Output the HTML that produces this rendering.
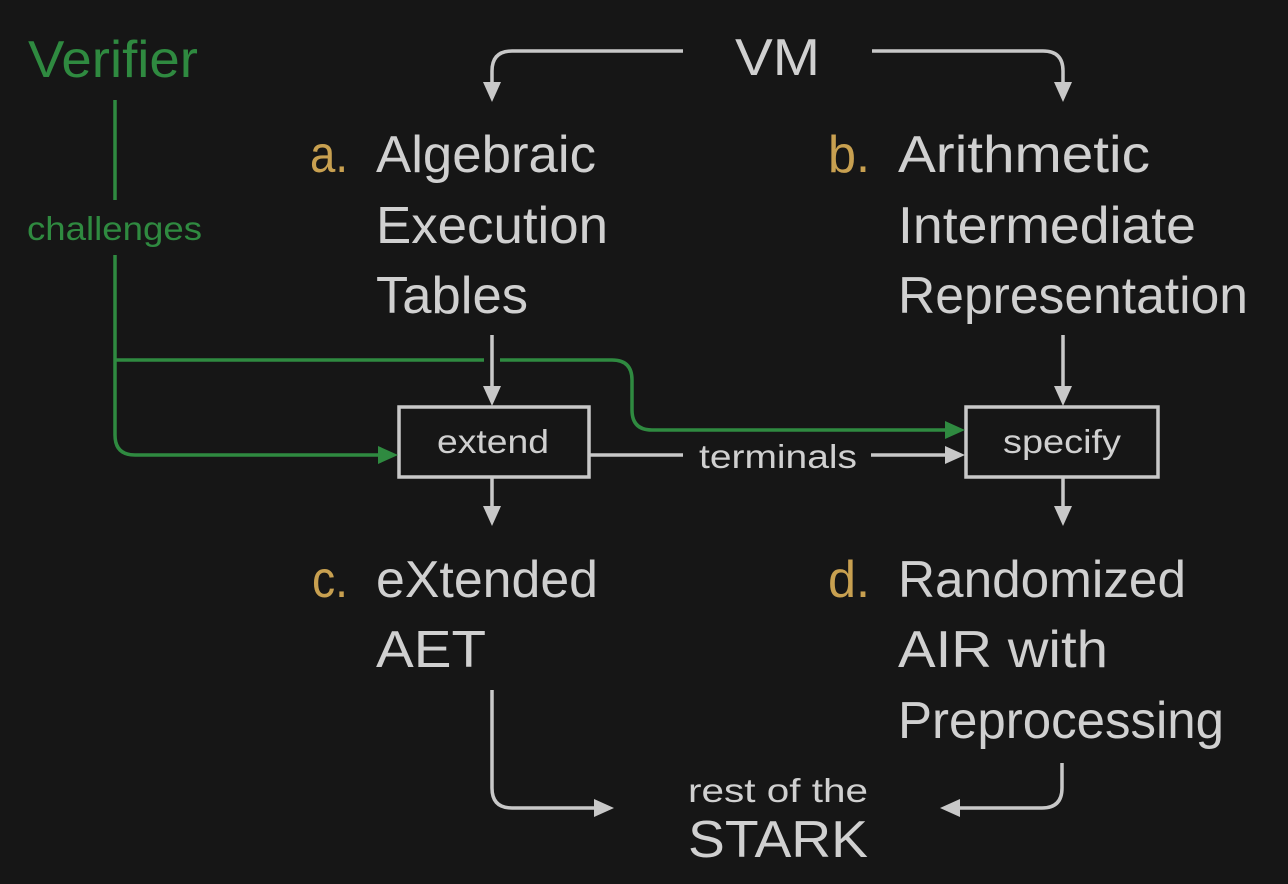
<!DOCTYPE html>
<html><head><style>
html,body{margin:0;padding:0;background:#161616;}
svg{display:block}
text{font-family:"Liberation Sans","DejaVu Sans",sans-serif;}
</style></head><body>
<svg width="1288" height="884" viewBox="0 0 1288 884" xmlns="http://www.w3.org/2000/svg">
<rect width="1288" height="884" fill="#161616"/>
<g fill="none" stroke="#c8c8c8" stroke-width="3.5">
<path d="M683,51 H512 Q492,51 492,71 V95"/>
<path d="M483,82 L492,102 L501,82 z" fill="#c8c8c8" stroke="none"/>
<path d="M872,51 H1043 Q1063,51 1063,71 V95"/>
<path d="M1054,82 L1063,102 L1072,82 z" fill="#c8c8c8" stroke="none"/>
<path d="M492,335 V400"/><path d="M483,386 L492,406 L501,386 z" fill="#c8c8c8" stroke="none"/>
<path d="M1063,335 V400"/><path d="M1054,386 L1063,406 L1072,386 z" fill="#c8c8c8" stroke="none"/>
<path d="M492,478 V520"/><path d="M483,506 L492,526 L501,506 z" fill="#c8c8c8" stroke="none"/>
<path d="M1063,478 V520"/><path d="M1054,506 L1063,526 L1072,506 z" fill="#c8c8c8" stroke="none"/>
<path d="M590,455 H683"/>
<path d="M871,455 H955"/><path d="M945,446 L965,455 L945,464 z" fill="#c8c8c8" stroke="none"/>
<path d="M492,690 V788 Q492,808 512,808 H605"/><path d="M594,799 L614,808 L594,817 z" fill="#c8c8c8" stroke="none"/>
<path d="M1062,763 V788 Q1062,808 1042,808 H950"/><path d="M960,799 L940,808 L960,817 z" fill="#c8c8c8" stroke="none"/>
<rect x="399" y="407" width="190" height="70"/>
<rect x="966" y="407" width="192" height="70"/>
</g>
<g fill="none" stroke="#2f8a40" stroke-width="3.5">
<path d="M115,100 V200"/>
<path d="M115,255 V435 Q115,455 135,455 H385"/>
<path d="M378,446 L398,455 L378,464 z" fill="#2f8a40" stroke="none"/>
<path d="M115,360 H484 M500,360 H612 Q632,360 632,380 V410 Q632,430 652,430 H950"/>
<path d="M945,421 L965,430 L945,439 z" fill="#2f8a40" stroke="none"/>
</g>
<g fill="#d0d0d0" font-size="52">
<text x="735" y="75" textLength="85" lengthAdjust="spacingAndGlyphs">VM</text>
<text x="376" y="172" textLength="220" lengthAdjust="spacingAndGlyphs">Algebraic</text>
<text x="376" y="243" textLength="232" lengthAdjust="spacingAndGlyphs">Execution</text>
<text x="376" y="313" textLength="152" lengthAdjust="spacingAndGlyphs">Tables</text>
<text x="898" y="172" textLength="252" lengthAdjust="spacingAndGlyphs">Arithmetic</text>
<text x="898" y="243" textLength="298" lengthAdjust="spacingAndGlyphs">Intermediate</text>
<text x="898" y="313" textLength="350" lengthAdjust="spacingAndGlyphs">Representation</text>
<text x="376" y="597" textLength="222" lengthAdjust="spacingAndGlyphs">eXtended</text>
<text x="376" y="667" textLength="110" lengthAdjust="spacingAndGlyphs">AET</text>
<text x="898" y="597" textLength="288" lengthAdjust="spacingAndGlyphs">Randomized</text>
<text x="898" y="667" textLength="210" lengthAdjust="spacingAndGlyphs">AIR with</text>
<text x="898" y="738" textLength="326" lengthAdjust="spacingAndGlyphs">Preprocessing</text>
<text x="688" y="857" textLength="180" lengthAdjust="spacingAndGlyphs">STARK</text>
</g>
<g fill="#c8a050" font-size="52">
<text x="310" y="172" textLength="38" lengthAdjust="spacingAndGlyphs">a.</text>
<text x="828" y="172" textLength="42" lengthAdjust="spacingAndGlyphs">b.</text>
<text x="312" y="597" textLength="36" lengthAdjust="spacingAndGlyphs">c.</text>
<text x="828" y="597" textLength="42" lengthAdjust="spacingAndGlyphs">d.</text>
</g>
<g fill="#d0d0d0" font-size="33">
<text x="437" y="453" textLength="112" lengthAdjust="spacingAndGlyphs">extend</text>
<text x="1003" y="453" textLength="118" lengthAdjust="spacingAndGlyphs">specify</text>
<text x="699" y="468" textLength="158" lengthAdjust="spacingAndGlyphs">terminals</text>
<text x="688" y="802" textLength="180" lengthAdjust="spacingAndGlyphs">rest of the</text>
</g>
<text x="28" y="77" font-size="52" fill="#2f8a40" textLength="170" lengthAdjust="spacingAndGlyphs">Verifier</text>
<text x="27" y="240" font-size="33" fill="#2f8a40" textLength="175" lengthAdjust="spacingAndGlyphs">challenges</text>
</svg>
</body></html>
